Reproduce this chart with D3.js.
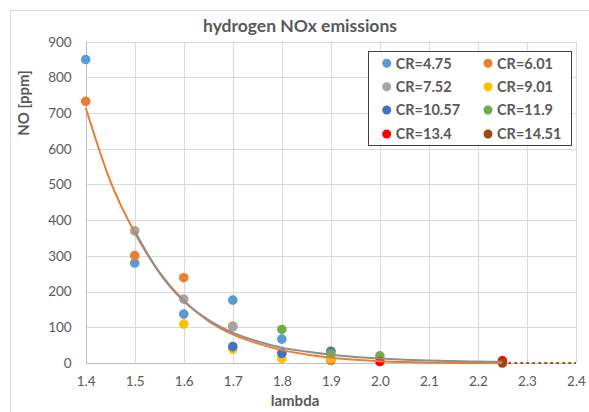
<!DOCTYPE html>
<html><head><meta charset="utf-8">
<script src="https://cdn.jsdelivr.net/npm/d3@7"></script>
<style>body{margin:0;background:#fff}svg{display:block;font-family:Lato,"Open Sans",sans-serif}</style>
</head><body><svg id="c" width="589" height="412"></svg>
<script>
const seriesNames = ["CR=4.75","CR=6.01","CR=7.52","CR=9.01","CR=10.57","CR=11.9","CR=13.4","CR=14.51"];
const seriesColors = ["#5B9BD5","#ED7D31","#A5A5A5","#FFC000","#4472C4","#70AD47","#FF0000","#9E480E"];
const cr475  = [[1.4,850],[1.5,280],[1.6,137],[1.7,176],[1.8,67]];
const cr601  = [[1.4,733],[1.5,301],[1.6,239],[1.7,103],[1.9,7]];
const cr752  = [[1.5,370],[1.6,179],[1.7,101],[1.8,28]];
const cr901  = [[1.6,109],[1.7,39],[1.8,12],[1.9,13]];
const cr1057 = [[1.7,46],[1.8,27],[1.9,33]];
const cr119  = [[1.8,94],[1.9,26],[2.0,20]];
const cr134  = [[2.0,4],[2.25,6]];
const cr1451 = [[2.25,0]];
const seriesData = [cr475,cr601,cr752,cr901,cr1057,cr119,cr134,cr1451];
// trendlines
const trendOrange = [[1.4,715],[1.45,510],[1.5,365],[1.55,255],[1.6,175],[1.65,118],[1.7,80],[1.75,55],[1.8,36],[1.85,24],[1.9,15],[1.95,9],[2.0,5],[2.05,2.5],[2.1,1],[2.15,0.3],[2.2,0],[2.25,0]];
const trendGray = [[1.5,370],[1.55,253],[1.6,173],[1.65,121],[1.7,85],[1.75,61],[1.8,43],[1.85,32],[1.9,23],[1.95,17],[2.0,12.6],[2.05,9.4],[2.1,7],[2.15,5.3],[2.2,4.1],[2.25,3.2]];
const trendBrown = [[2.25,0],[2.4,0]];
const xTicks = [1.4,1.5,1.6,1.7,1.8,1.9,2.0,2.1,2.2,2.3,2.4];
const yTicks = [0,100,200,300,400,500,600,700,800,900];

const svg = d3.select("#c");
svg.append("rect").attr("x",10.5).attr("y",10.5).attr("width",700).attr("height",500)
  .attr("fill","#fff").attr("stroke","#d9d9d9");
const x = d3.scaleLinear().domain([1.4,2.4]).range([85.7,576]);
const y = d3.scaleLinear().domain([0,900]).range([363,41.7]);

const grid = svg.append("g");
grid.selectAll(".hg").data(yTicks).join("line")
  .attr("x1",x(1.4)).attr("x2",x(2.4)).attr("y1",d=>Math.round(y(d))+0.5).attr("y2",d=>Math.round(y(d))+0.5)
  .attr("stroke","#d9d9d9");
grid.selectAll(".vg").data(xTicks).join("line")
  .attr("y1",y(0)).attr("y2",y(900)).attr("x1",d=>Math.round(x(d))+0.5).attr("x2",d=>Math.round(x(d))+0.5)
  .attr("stroke","#d9d9d9");
svg.append("line").attr("x1",Math.round(x(1.4))+0.5).attr("x2",Math.round(x(1.4))+0.5).attr("y1",y(0)).attr("y2",y(900)).attr("stroke","#bfbfbf");
svg.append("line").attr("x1",x(1.4)).attr("x2",x(2.4)).attr("y1",Math.round(y(0))+0.5).attr("y2",Math.round(y(0))+0.5).attr("stroke","#bfbfbf");

const yAxis = d3.axisLeft(y).tickValues(yTicks).tickSize(0).tickPadding(14);
const ya = svg.append("g").attr("transform",`translate(${x(1.4)},0)`).call(yAxis);
ya.select(".domain").remove();
ya.selectAll("text").attr("fill","#595959").style("font-size","13.5px").style("font-family","Lato,sans-serif");
const xAxis = d3.axisBottom(x).tickValues(xTicks).tickFormat(d3.format(".1f")).tickSize(0).tickPadding(13);
const xa = svg.append("g").attr("transform",`translate(0,${y(0)})`).call(xAxis);
xa.select(".domain").remove();
xa.selectAll("text").attr("fill","#595959").style("font-size","13.5px").style("font-family","Lato,sans-serif");

// points
seriesData.forEach((data,i)=>{
  svg.append("g").selectAll("circle").data(data).join("circle")
    .attr("cx",d=>x(d[0])).attr("cy",d=>y(d[1])).attr("r",4.8).attr("fill",seriesColors[i]);
});
// trendlines
const line = d3.line().x(d=>x(d[0])).y(d=>y(d[1])).curve(d3.curveMonotoneX);
svg.append("path").datum(trendOrange).attr("d",line).attr("fill","none").attr("stroke",seriesColors[1]).attr("stroke-width",2);
svg.append("path").datum(trendGray).attr("d",line).attr("fill","none").attr("stroke","#8f8f8f").attr("stroke-width",2);
svg.append("path").datum(trendBrown).attr("d",line).attr("fill","none").attr("stroke",seriesColors[7]).attr("stroke-width",2.2).attr("stroke-dasharray","2.5,3.5");

// titles
svg.append("text").attr("x",300).attr("y",32).attr("text-anchor","middle").attr("fill","#595959")
  .style("font-size","17.5px").style("font-weight","bold").text("hydrogen NOx emissions");
svg.append("text").attr("x",295).attr("y",406).attr("text-anchor","middle").attr("fill","#595959")
  .style("font-size","15px").style("font-weight","bold").text("lambda");
svg.append("text").attr("transform","translate(29,103) rotate(-90)").attr("text-anchor","middle").attr("fill","#595959")
  .style("font-size","15px").style("font-weight","bold").text("NO [ppm]");

// legend
const lg = svg.append("g");
lg.append("rect").attr("x",368.5).attr("y",51.5).attr("width",203).attr("height",94).attr("fill","#fff").attr("stroke","#404040");
const lcols = [386.7,488];
const lrows = [63.3,86.7,110,134];
seriesNames.forEach((n,i)=>{
  const cx = lcols[i%2], cy = lrows[Math.floor(i/2)];
  lg.append("circle").attr("cx",cx).attr("cy",cy).attr("r",4.5).attr("fill",seriesColors[i]);
  lg.append("text").attr("x",cx+9).attr("y",cy).attr("dy","0.36em").attr("fill","#595959")
    .style("font-size","14.5px").style("font-weight","bold").text(n);
});
</script></body></html>
